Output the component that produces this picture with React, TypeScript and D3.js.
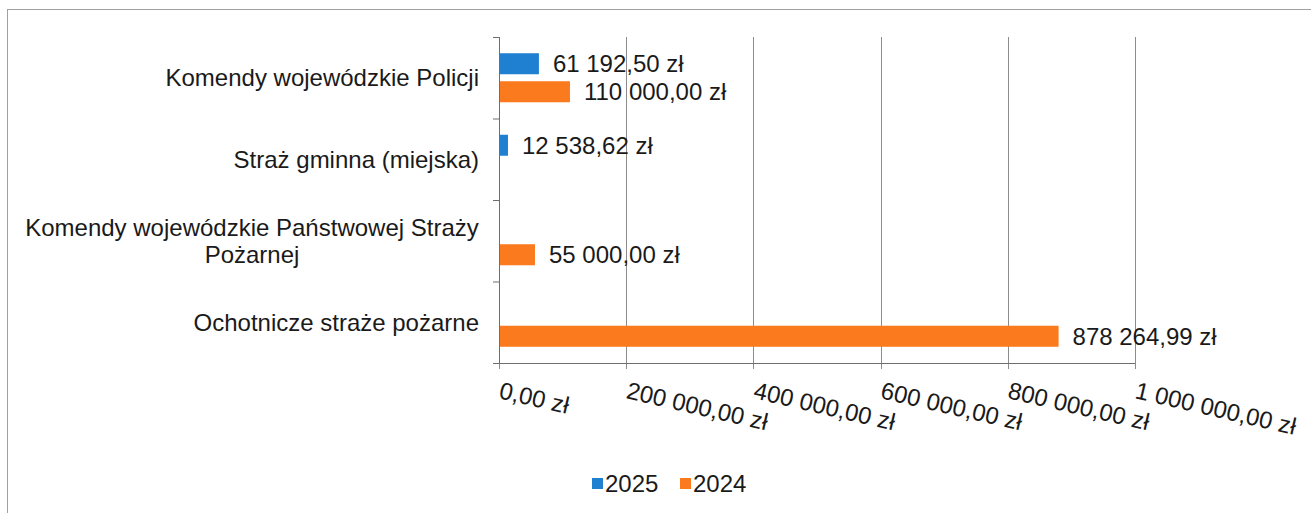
import * as d3 from 'd3';
import React, { useEffect } from 'react';

// chart data
const categories = [
  'Komendy wojewódzkie Policji',
  'Straż gminna (miejska)',
  'Komendy wojewódzkie Państwowej Straży Pożarnej',
  'Ochotnicze straże pożarne',
];
const categoryLines = [
  ['Komendy wojewódzkie Policji'],
  ['Straż gminna (miejska)'],
  ['Komendy wojewódzkie Państwowej Straży', 'Pożarnej'],
  ['Ochotnicze straże pożarne'],
];
const seriesNames = ['2025', '2024'];
const values2025: (number | null)[] = [61192.5, 12538.62, null, null];
const values2024: (number | null)[] = [110000, null, 55000, 878264.99];
const xTicks = [0, 200000, 400000, 600000, 800000, 1000000];

const colors: Record<string, string> = { '2025': '#1f7fd1', '2024': '#fc7a1e' };

const pl = d3.formatLocale({
  decimal: ',',
  thousands: ' ',
  grouping: [3],
  currency: ['', ' zł'],
});
const fmt = pl.format('$,.2f');

const W = 1311;
const H = 513;
const FONT = '"Liberation Sans", Arial, sans-serif';
const FS = 24;

const App: React.FC = () => {
  useEffect(() => {
    document.body.style.margin = '0';
  }, []);

  const x = d3.scaleLinear().domain([0, 1000000]).range([499, 1135]);
  const y = d3.scaleBand<string>().domain(categories).range([37, 363]);
  const inner = d3
    .scaleBand<string>()
    .domain(seriesNames)
    .range([0, y.bandwidth()])
    .paddingInner(0.25)
    .paddingOuter(0.58);

  const series = [
    { name: '2025', values: values2025 },
    { name: '2024', values: values2024 },
  ];

  const [y0, y1] = y.range();
  const boundaries = categories.map((c) => y(c) as number).concat([y1]);

  return (
    <svg width={W} height={H} style={{ display: 'block' }} fontFamily={FONT}>
      <rect width={W} height={H} fill="#fff" />
      {/* frame */}
      <line x1={7} x2={W} y1={9.5} y2={9.5} stroke="#a0a0a0" />
      <line x1={7.5} x2={7.5} y1={9} y2={H} stroke="#a0a0a0" />

      {/* gridlines */}
      {xTicks.map((t) => (
        <line
          key={'g' + t}
          x1={Math.round(x(t)) + 0.5}
          x2={Math.round(x(t)) + 0.5}
          y1={y0}
          y2={y1 + 6}
          stroke="#8c8c8c"
        />
      ))}

      {/* axes */}
      <line x1={x(0)} x2={x(1000000)} y1={y1 + 0.5} y2={y1 + 0.5} stroke="#6e6e6e" />
      <line x1={x(0) + 0.5} x2={x(0) + 0.5} y1={y0} y2={y1} stroke="#6e6e6e" />
      {boundaries.map((b, i) => (
        <line key={'t' + i} x1={x(0) - 6} x2={x(0)} y1={b + 0.5} y2={b + 0.5} stroke="#6e6e6e" />
      ))}

      {/* bars and labels */}
      {series.map((s) =>
        s.values.map((v, i) => {
          if (v == null) return null;
          const by = (y(categories[i]) as number) + (inner(s.name) as number);
          const bh = inner.bandwidth();
          return (
            <g key={s.name + i}>
              <rect x={x(0) + 1} y={by} width={x(v) - x(0)} height={bh} fill={colors[s.name]} />
              <text x={x(v) + 15} y={by + bh / 2} dy="0.35em" fontSize={FS} fill="#1a1a1a">
                {fmt(v)}
              </text>
            </g>
          );
        })
      )}

      {/* category labels */}
      {categoryLines.map((lines, i) => {
        const cy = (y(categories[i]) as number) + y.bandwidth() / 2;
        const lh = 27;
        if (lines.length === 1) {
          return (
            <text key={'c' + i} x={479} y={cy} dy="0.35em" textAnchor="end" fontSize={FS} fill="#1a1a1a">
              {lines[0]}
            </text>
          );
        }
        return (
          <text key={'c' + i} x={252} textAnchor="middle" fontSize={FS} fill="#1a1a1a">
            {lines.map((l, j) => (
              <tspan key={j} x={252} y={cy + (j - (lines.length - 1) / 2) * lh} dy="0.35em">
                {l}
              </tspan>
            ))}
          </text>
        );
      })}

      {/* x tick labels */}
      {xTicks.map((t) => (
        <text
          key={'xl' + t}
          transform={`translate(${x(t) - 1},398) rotate(13)`}
          fontSize={FS}
          fill="#1a1a1a"
        >
          {fmt(t)}
        </text>
      ))}

      {/* legend */}
      {seriesNames.map((n, i) => {
        const lx = 592 + i * 88;
        return (
          <g key={'lg' + n}>
            <rect x={lx} y={478} width={11} height={11} fill={colors[n]} />
            <text x={lx + 13} y={492} fontSize={FS} fill="#1a1a1a">
              {n}
            </text>
          </g>
        );
      })}
    </svg>
  );
};

export default App;
